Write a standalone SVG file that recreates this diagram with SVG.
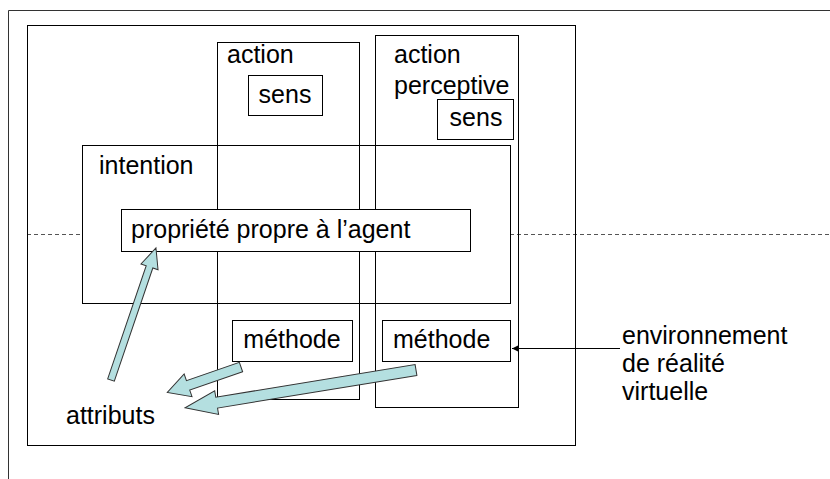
<svg xmlns="http://www.w3.org/2000/svg" width="830" height="479" viewBox="0 0 830 479">
<style>
.box{fill:none;stroke:#000;stroke-width:1}
.t{font-family:"Liberation Sans",Arial,sans-serif;font-size:25px;fill:#000}
.blk{fill:#b4dfe0;stroke:#333;stroke-width:1}
.dash{stroke:#555;stroke-width:1;stroke-dasharray:4,3;fill:none}
</style>
<defs>
<marker id="ah" markerWidth="8" markerHeight="8" refX="6" refY="4" orient="auto" markerUnits="userSpaceOnUse">
<path d="M0,1 L6,4 L0,7 Z" fill="#000"/>
</marker>
</defs>
<rect width="830" height="479" fill="#fff"/>
<g id="frame">
<path d="M8.5,479 V10.5 H830" fill="none" stroke="#333" stroke-width="1"/>
</g>
<g id="dashed">
<line class="dash" x1="27" y1="234.5" x2="82" y2="234.5"/>
<line class="dash" x1="510" y1="234.5" x2="830" y2="234.5"/>
</g>
<g id="outer"><rect class="box" x="27.5" y="25.5" width="548" height="420" stroke="#333"/></g>
<g id="action">
<rect class="box" x="217.5" y="42.5" width="142" height="357"/>
<text class="t" x="227" y="63">action</text>
</g>
<g id="sens1">
<rect class="box" x="248.5" y="75.5" width="74" height="40"/>
<text class="t" x="285" y="103" text-anchor="middle">sens</text>
</g>
<g id="action-perceptive">
<rect class="box" x="375.5" y="35.5" width="143" height="372"/>
<text class="t" x="394" y="63">action</text>
<text class="t" x="394" y="94">perceptive</text>
</g>
<g id="sens2">
<rect class="box" x="437.5" y="99.5" width="76" height="40"/>
<text class="t" x="476" y="126" text-anchor="middle">sens</text>
</g>
<g id="intention">
<rect class="box" x="82.5" y="145.5" width="428" height="158"/>
<text class="t" x="99" y="174">intention</text>
</g>
<g id="propriete">
<rect x="121.5" y="209.5" width="349" height="42" fill="#fff" stroke="#000"/>
<text class="t" x="131" y="238">propriété propre à l’agent</text>
</g>
<g id="methode1">
<rect class="box" x="232.5" y="320.5" width="120" height="41"/>
<text class="t" x="292" y="348" text-anchor="middle">méthode</text>
</g>
<g id="methode2">
<rect class="box" x="382.5" y="320.5" width="128" height="41"/>
<text class="t" x="393" y="348">méthode</text>
</g>
<g id="env">
<text class="t" x="622" y="344">environnement</text>
<text class="t" x="622" y="372">de réalité</text>
<text class="t" x="622" y="400">virtuelle</text>
</g>
<g id="attributs">
<text class="t" x="66" y="424">attributs</text>
</g>
<g id="connectors">
<line x1="620" y1="348.5" x2="512" y2="348.5" stroke="#000" stroke-width="1" marker-end="url(#ah)"/>
<path class="blk" transform="translate(111,380) rotate(-71.2)" d="M0,-3.5 H119.5 V-9 L139.5,0 L119.5,9 V3.5 H0 Z"/>
<path class="blk" transform="translate(241,367) rotate(160.9)" d="M0,-5 H56 V-12 L78,0 L56,12 V5 H0 Z"/>
<path class="blk" transform="translate(416,370) rotate(170.7)" d="M0,-5.5 H202 V-12 L234,0 L202,12 V5.5 H0 Z"/>
</g>
</svg>
